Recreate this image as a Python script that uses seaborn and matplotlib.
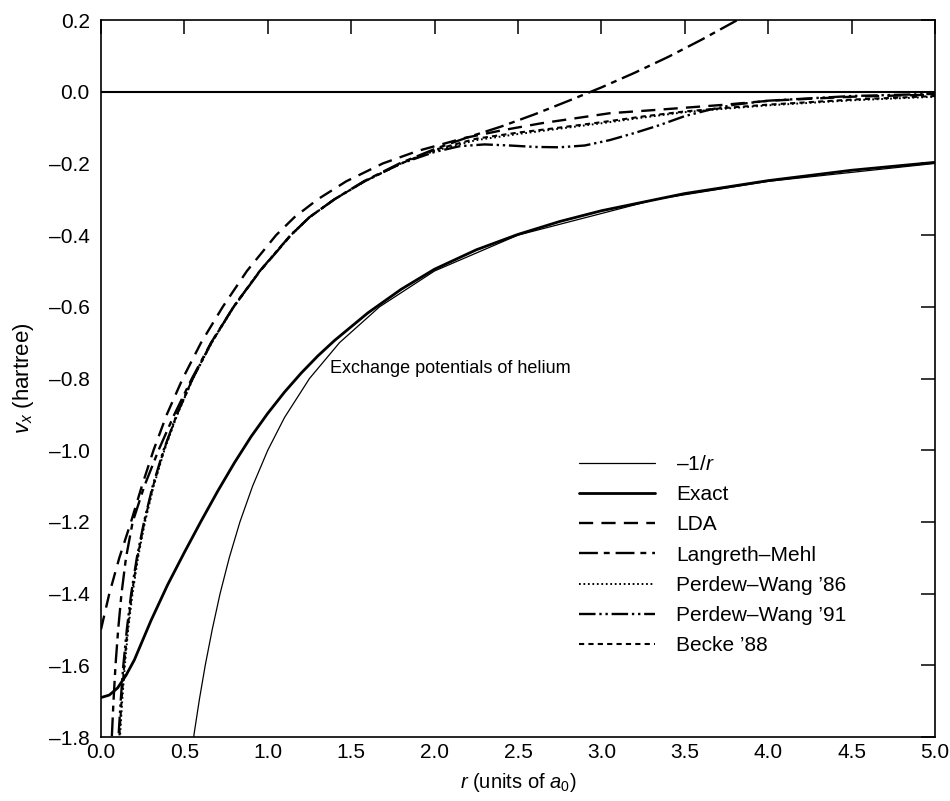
import numpy as np
import pandas as pd
import matplotlib
matplotlib.use("Agg")
import matplotlib.pyplot as plt
import seaborn as sns

# ---------------- data ----------------
inv_r_x = [0.540, 0.560, 0.590, 0.625, 0.667, 0.714, 0.769, 0.833, 0.909, 1.000, 1.100,
           1.250, 1.430, 1.670, 2.000, 2.500, 3.330, 4.000, 5.000]
inv_r_y = [-1.852, -1.786, -1.695, -1.600, -1.500, -1.400, -1.300, -1.200, -1.100, -1.000,
           -0.909, -0.800, -0.700, -0.600, -0.500, -0.400, -0.300, -0.250, -0.200]

exact_x = [0.00, 0.05, 0.10, 0.15, 0.20, 0.25, 0.30, 0.40, 0.50, 0.60, 0.70, 0.80, 0.90,
           1.00, 1.10, 1.20, 1.30, 1.40, 1.60, 1.80, 2.00, 2.25, 2.50, 2.75, 3.00, 3.50,
           4.00, 4.50, 5.00]
exact_y = [-1.690, -1.683, -1.663, -1.628, -1.585, -1.530, -1.475, -1.375, -1.285, -1.198,
           -1.114, -1.035, -0.962, -0.897, -0.838, -0.785, -0.737, -0.694, -0.617, -0.551,
           -0.495, -0.441, -0.398, -0.362, -0.332, -0.284, -0.248, -0.219, -0.197]

lda_x = [0.000, 0.025, 0.050, 0.080, 0.110, 0.145, 0.180, 0.245, 0.315, 0.395, 0.490,
         0.600, 0.730, 0.875, 1.050, 1.160, 1.300, 1.470, 1.690, 1.900, 2.180, 2.400,
         2.640, 3.050, 3.320, 3.720, 4.010, 4.500, 5.000]
lda_y = [-1.500, -1.450, -1.400, -1.350, -1.300, -1.250, -1.200, -1.100, -1.000, -0.900,
         -0.800, -0.700, -0.600, -0.500, -0.400, -0.350, -0.300, -0.250, -0.200, -0.165,
         -0.129, -0.108, -0.088, -0.060, -0.051, -0.037, -0.025, -0.014, -0.008]

lm_x = [0.055, 0.065, 0.075, 0.087, 0.103, 0.123, 0.150, 0.190, 0.260, 0.345, 0.440,
        0.545, 0.660, 0.795, 0.954, 1.139, 1.250, 1.400, 1.575, 1.790, 2.000, 2.200,
        2.400, 2.600, 2.800, 3.000, 3.200, 3.400, 3.600, 3.800, 4.000]
lm_y = [-1.900, -1.800, -1.700, -1.600, -1.500, -1.400, -1.300, -1.200, -1.100, -1.000,
        -0.900, -0.800, -0.700, -0.600, -0.500, -0.400, -0.350, -0.300, -0.250, -0.200,
        -0.160, -0.127, -0.097, -0.063, -0.026, 0.012, 0.053, 0.097, 0.145, 0.196, 0.250]

pw86_x = [0.105, 0.114, 0.127, 0.143, 0.163, 0.189, 0.222, 0.264, 0.316, 0.380, 0.458,
          0.552, 0.664, 0.797, 0.954, 1.139, 1.250, 1.400, 1.580, 1.800, 2.000, 2.250,
          2.500, 2.700, 3.000, 3.250, 3.500, 3.750, 4.000, 4.500, 5.000]
pw86_y = [-1.880, -1.800, -1.700, -1.600, -1.500, -1.400, -1.300, -1.200, -1.100, -1.000,
          -0.900, -0.800, -0.700, -0.600, -0.500, -0.400, -0.350, -0.300, -0.250, -0.200,
          -0.165, -0.135, -0.118, -0.106, -0.088, -0.072, -0.057, -0.047, -0.038, -0.024,
          -0.014]

pw91_x = [0.095, 0.105, 0.118, 0.134, 0.155, 0.181, 0.215, 0.258, 0.310, 0.375, 0.455,
          0.550, 0.662, 0.795, 0.952, 1.137, 1.250, 1.400, 1.580, 1.800, 2.000, 2.150,
          2.300, 2.450, 2.600, 2.750, 2.900, 3.050, 3.200, 3.350, 3.500, 3.650, 3.800,
          4.000, 4.500, 5.000]
pw91_y = [-1.880, -1.800, -1.700, -1.600, -1.500, -1.400, -1.300, -1.200, -1.100, -1.000,
          -0.900, -0.800, -0.700, -0.600, -0.500, -0.400, -0.350, -0.300, -0.250, -0.200,
          -0.168, -0.152, -0.147, -0.150, -0.154, -0.155, -0.150, -0.135, -0.115, -0.093,
          -0.068, -0.050, -0.036, -0.025, -0.012, -0.006]

b88_x = [0.100, 0.110, 0.123, 0.139, 0.159, 0.185, 0.218, 0.260, 0.312, 0.377, 0.455,
         0.550, 0.662, 0.795, 0.952, 1.137, 1.250, 1.400, 1.580, 1.800, 2.000, 2.250,
         2.500, 2.700, 3.000, 3.250, 3.500, 3.750, 4.000, 4.500, 5.000]
b88_y = [-1.900, -1.800, -1.700, -1.600, -1.500, -1.400, -1.300, -1.200, -1.100, -1.000,
         -0.900, -0.800, -0.700, -0.600, -0.500, -0.400, -0.350, -0.300, -0.250, -0.200,
         -0.162, -0.131, -0.114, -0.103, -0.085, -0.069, -0.055, -0.045, -0.036, -0.022,
         -0.012]

labels = ["\u20131/$r$", "Exact", "LDA", "Langreth\u2013Mehl",
          "Perdew\u2013Wang \u201986", "Perdew\u2013Wang \u201991", "Becke \u201988"]

x_ticks = [0.0, 0.5, 1.0, 1.5, 2.0, 2.5, 3.0, 3.5, 4.0, 4.5, 5.0]
y_ticks = [-1.8, -1.6, -1.4, -1.2, -1.0, -0.8, -0.6, -0.4, -0.2, 0.0, 0.2]

# ---------------- style ----------------
sns.set_style("white")
plt.rcParams["font.family"] = ["Liberation Sans", "DejaVu Sans"]
plt.rcParams["mathtext.fontset"] = "custom"
plt.rcParams["mathtext.rm"] = "Liberation Sans"
plt.rcParams["mathtext.it"] = "Liberation Sans:italic"
plt.rcParams["mathtext.bf"] = "Liberation Sans:bold"
plt.rcParams["text.color"] = "black"
plt.rcParams["axes.labelcolor"] = "black"

fig = plt.figure(figsize=(9.5, 8.01), dpi=100)
ax = fig.add_axes([0.1063, 0.0799, 0.8779, 0.8951])

series = [
    (inv_r_x, inv_r_y, dict(lw=0.9, linestyle="-")),
    (exact_x, exact_y, dict(lw=2.0, linestyle="-")),
    (lda_x, lda_y, dict(lw=1.7, linestyle=(0, (6, 3.5)))),
    (lm_x, lm_y, dict(lw=1.7, linestyle=(0, (8, 2.5, 2.5, 2.5)))),
    (pw86_x, pw86_y, dict(lw=1.4, linestyle=(0, (0.9, 1.4)))),
    (pw91_x, pw91_y, dict(lw=1.7, linestyle=(0, (7, 1.6, 1, 1.6, 1, 1.6)))),
    (b88_x, b88_y, dict(lw=1.5, linestyle=(0, (2.5, 2)))),
]

for (xs, ys, st), lab in zip(series, labels):
    sns.lineplot(x=xs, y=ys, ax=ax, color="black", label=lab, sort=False,
                 estimator=None, **st)

ax.axhline(0.0, color="black", lw=1.5, zorder=1)

ax.set_xlim(0, 5)
ax.set_ylim(-1.8, 0.2)
ax.set_xticks(x_ticks)
ax.set_yticks(y_ticks)
ax.set_xticklabels([f"{v:.1f}" for v in x_ticks])
ax.set_yticklabels([f"{v:.1f}".replace("-", "\u2013") for v in y_ticks])

for s in ax.spines.values():
    s.set_visible(True)
    s.set_color("black")
    s.set_linewidth(1.2)

ax.tick_params(axis="both", which="major", direction="in", length=10, width=1.1,
               top=True, right=True, labelsize=15, colors="black")
ax.tick_params(axis="x", pad=4)
ax.tick_params(axis="y", pad=8)

ax.set_xlabel("$r$ (units of $a_0$)", fontsize=14.5, labelpad=7)
ax.set_ylabel("$v_x$ (hartree)", fontsize=16, labelpad=9)

ax.text(1.373, -0.771, "Exchange potentials of helium", fontsize=13, va="center",
        ha="left")

leg = ax.legend(loc="upper left", bbox_to_anchor=(0.563, 0.405), frameon=False,
                fontsize=15, handlelength=3.67, handletextpad=1.0, labelspacing=0.54,
                borderaxespad=0)

fig.savefig("out.png", dpi=100)
